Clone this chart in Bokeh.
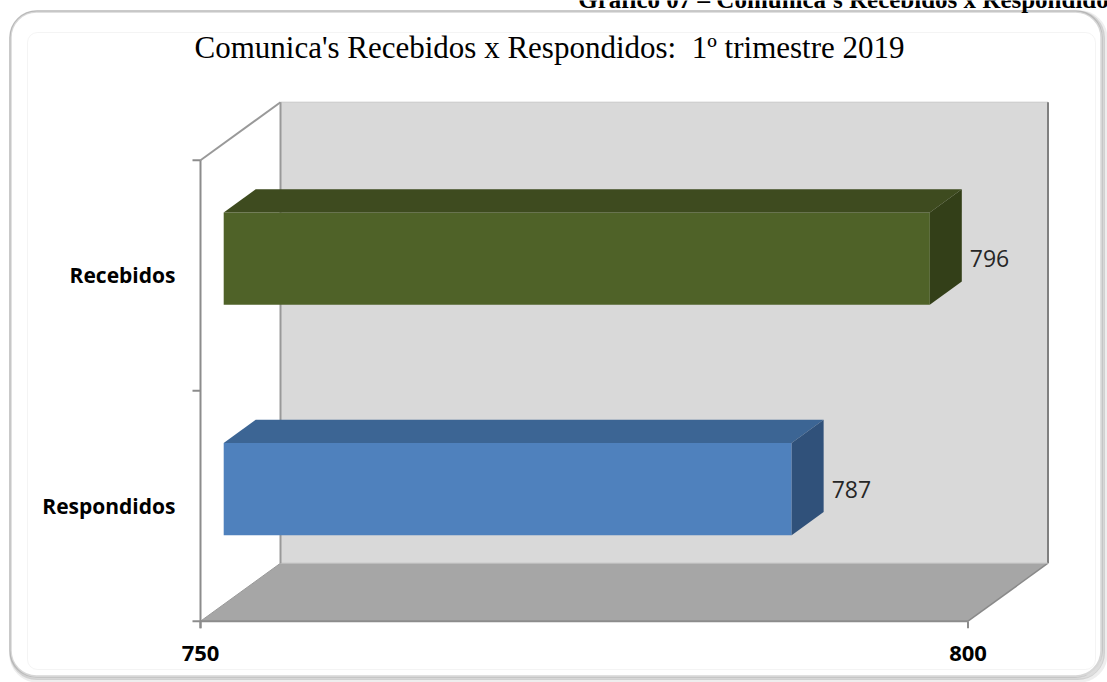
import numpy as np
from bokeh.plotting import figure
from bokeh.models import ColumnDataSource, BoxAnnotation, Range1d
from bokeh.core.properties import value
from bokeh.embed import file_html
from bokeh.resources import INLINE

# ---------------- data ----------------
categories = ["Respondidos", "Recebidos"]
values = [787, 796]
front_colors = ["#4F81BD", "#4F6228"]
top_colors = ["#3C6594", "#3E4B1F"]
side_colors = ["#30517A", "#333F18"]
x_ticks = [750, 800]
x_tick_labels = ["750", "800"]
title_text = "Comunica's Recebidos x Respondidos:\u00a0 1º trimestre 2019"
header_text = "Gráfico 07 – Comunica's Recebidos x Respondidos"

# ---------------- geometry (picture pixel -> data mapping) ----------------
W, H = 1107, 682
X0, K = 200.0, 15.35       # picture x of axis minimum, pixels per unit
Y0, S = 620.7, 230.5       # picture y of category axis start, pixels per category band
vmin, vmax = x_ticks[0], x_ticks[-1]
x_start = vmin + (0 - X0) / K
x_end = x_start + W / K
y_end = Y0 / S
y_start = y_end - H / S


def px(x):
    return vmin + (x - X0) / K


def py(y):
    return (Y0 - y) / S


DX = 80.0 / K     # depth vector in data units
DY = 58.0 / S
d0, d1 = 0.29, 0.69   # bar front / back depth
half = 0.2            # half bar thickness (bands)
ncat = len(categories)

p = figure(width=W, height=H, output_backend="svg", toolbar_location=None,
           x_range=Range1d(x_start, x_end), y_range=Range1d(y_start, y_end),
           min_border=0, background_fill_color="white", border_fill_color="white")
p.outline_line_color = None
p.axis.visible = False
p.grid.visible = False

# ---------------- chart frame (rounded, shadowed) ----------------
for off, col, lw in [(4, "#c8c8c8", 4), (2, "#8f8f8f", 3)]:
    p.add_layout(BoxAnnotation(left=px(10 + off * 0.2), right=px(1101 + off), top=py(11 + off * 0.2),
                               bottom=py(676 + off),
                               fill_color=None, fill_alpha=0, line_color=col, line_width=lw,
                               border_radius=26, level="underlay"))
p.add_layout(BoxAnnotation(left=px(10), right=px(1101), top=py(11), bottom=py(676),
                           fill_color="white", fill_alpha=1, line_color="#7a7a7a", line_width=2.5,
                           border_radius=26, level="underlay"))
p.add_layout(BoxAnnotation(left=px(27), right=px(1095), top=py(32), bottom=py(669),
                           fill_color=None, fill_alpha=0, line_color="#dadada", line_width=1,
                           border_radius=10, level="underlay"))

# ---------------- 3D walls ----------------
# back wall
p.quad(left=[vmin + DX], right=[vmax + DX], bottom=[DY], top=[ncat + DY],
       fill_color="#D9D9D9", line_color=None)
p.line([vmin + DX, vmax + DX], [ncat + DY, ncat + DY], line_color="#c8c8c8", line_width=1)
p.line([vmax + DX, vmax + DX], [DY, ncat + DY], line_color="#808080", line_width=2)
# floor
p.patch([vmin, vmax, vmax + DX, vmin + DX], [0, 0, DY, DY],
        fill_color="#A6A6A6", line_color=None)
p.line([vmax, vmax + DX], [0, DY], line_color="#8a8a8a", line_width=1.5)
p.line([vmin + DX, vmax + DX], [DY, DY], line_color="#bdbdbd", line_width=1)
# left wall outline
p.line([vmin, vmin + DX], [ncat, ncat + DY], line_color="#999999", line_width=2)
p.line([vmin + DX, vmin + DX], [DY, ncat + DY], line_color="#999999", line_width=2)
p.line([vmin, vmin + DX], [0, DY], line_color="#999999", line_width=1)

# ---------------- bars ----------------
cy = np.arange(ncat) + 0.5
vals = np.array(values, dtype=float)
front = ColumnDataSource(dict(
    left=[vmin + d0 * DX] * ncat,
    right=list(vals + d0 * DX),
    bottom=list(cy - half + d0 * DY),
    top=list(cy + half + d0 * DY),
    color=front_colors))
p.quad(left="left", right="right", bottom="bottom", top="top", fill_color="color",
       line_color=None, source=front)

top_xs, top_ys, side_xs, side_ys = [], [], [], []
for c, v in zip(cy, vals):
    t0, t1 = c + half + d0 * DY, c + half + d1 * DY
    b0, b1 = c - half + d0 * DY, c - half + d1 * DY
    top_xs.append([vmin + d0 * DX, v + d0 * DX, v + d1 * DX, vmin + d1 * DX])
    top_ys.append([t0, t0, t1, t1])
    side_xs.append([v + d0 * DX, v + d0 * DX, v + d1 * DX, v + d1 * DX])
    side_ys.append([b0, t0, t1, b1])
p.patches(top_xs, top_ys, fill_color=top_colors, line_color=None)
p.patches(side_xs, side_ys, fill_color=side_colors, line_color=None)

# data labels
p.text(x=list(vals + d1 * DX + 8 / K), y=list(cy + d0 * DY), text=[str(v) for v in values],
       text_font=value("Open Sans"), text_font_size="23px", text_color="#262626",
       text_align="left", text_baseline="middle")

# ---------------- axes (front plane) ----------------
axis_col = "#8c8c8c"
p.line([vmin, vmin], [-7 / S, ncat], line_color=axis_col, line_width=2)
p.line([vmin, vmax], [0, 0], line_color=axis_col, line_width=2)
for i in range(ncat + 1):
    p.line([vmin - 8 / K, vmin], [i, i], line_color=axis_col, line_width=2)
for t in x_ticks:
    p.line([t, t], [0, -7 / S], line_color=axis_col, line_width=2)

p.text(x=x_ticks, y=[-32 / S] * len(x_ticks), text=x_tick_labels,
       text_font=value("Open Sans"), text_font_style="bold", text_font_size="22px",
       text_color="black", text_align="center", text_baseline="middle")
p.text(x=[vmin - 25 / K] * ncat, y=list(cy), text=categories,
       text_font=value("Open Sans"), text_font_style="bold", text_font_size="21px",
       text_color="black", text_align="right", text_baseline="middle")

# ---------------- titles ----------------
p.text(x=[px(549)], y=[py(47)], text=[title_text],
       text_font=value("Liberation Serif"), text_font_size="31px", text_color="black",
       text_align="center", text_baseline="middle")
p.text(x=[px(1118)], y=[py(-1)], text=[header_text],
       text_font=value("Liberation Serif"), text_font_style="bold", text_font_size="25px",
       text_color="black", text_align="right", text_baseline="alphabetic")

open("out.html", "w").write(file_html(p, INLINE))
